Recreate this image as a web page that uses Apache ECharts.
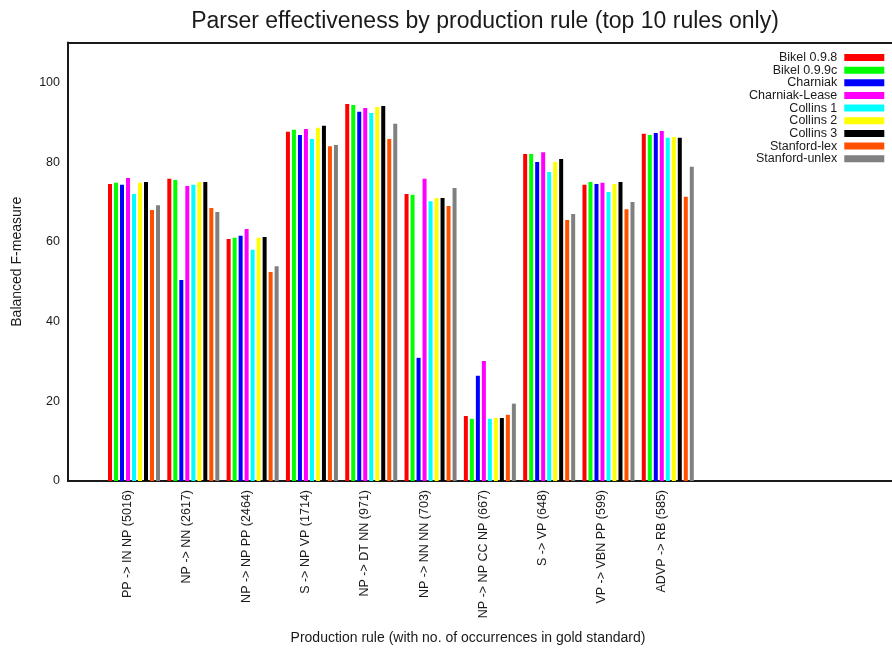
<!DOCTYPE html>
<html>
<head>
<meta charset="utf-8">
<script src="https://cdn.jsdelivr.net/npm/echarts@6/dist/echarts.min.js"></script>
<style>
  html, body { margin: 0; padding: 0; background: #fff; }
  #chart { width: 892px; height: 648px; }
</style>
</head>
<body>
<div id="chart"></div>
<script>
// Production rules (with occurrence counts in the gold standard)
const rules = [
  'PP -> IN NP (5016)', 'NP -> NN (2617)', 'NP -> NP PP (2464)', 'S -> NP VP (1714)',
  'NP -> DT NN (971)', 'NP -> NN NN (703)', 'NP -> NP CC NP (667)', 'S -> VP (648)',
  'VP -> VBN PP (599)', 'ADVP -> RB (585)'
];

const parsers = ['Bikel 0.9.8', 'Bikel 0.9.9c', 'Charniak', 'Charniak-Lease', 'Collins 1',
                 'Collins 2', 'Collins 3', 'Stanford-lex', 'Stanford-unlex'];

// Balanced F-measure per rule, one array per parser
const bikel098      = [74.5, 75.8, 60.7, 87.6, 94.6, 72.0, 16.3, 82.0, 74.3, 87.1];
const bikel099c     = [74.8, 75.5, 61.0, 88.1, 94.3, 71.8, 15.6, 82.0, 75.0, 86.8];
const charniak      = [74.3, 50.4, 61.5, 86.8, 92.6, 30.9, 26.4, 80.0, 74.5, 87.3];
const charniakLease = [76.0, 74.0, 63.2, 88.3, 93.6, 75.8, 30.1, 82.5, 74.8, 87.8];
const collins1      = [72.0, 74.3, 58.0, 85.8, 92.3, 70.2, 15.6, 77.5, 72.5, 86.1];
const collins2      = [74.8, 75.0, 61.0, 88.6, 93.8, 71.0, 15.8, 80.0, 74.5, 86.3];
const collins3      = [75.0, 75.0, 61.2, 89.1, 94.1, 71.0, 15.8, 80.8, 75.0, 86.1];
const stanfordLex   = [68.0, 68.5, 52.4, 84.0, 85.8, 69.0, 16.6, 65.5, 68.2, 71.3];
const stanfordUnlex = [69.2, 67.5, 53.9, 84.3, 89.6, 73.5, 19.4, 67.0, 70.0, 78.8];

const seriesValues = [bikel098, bikel099c, charniak, charniakLease, collins1,
                      collins2, collins3, stanfordLex, stanfordUnlex];

const colors = ['#ff0000', '#00ff00', '#0000ff', '#ff00ff', '#00ffff',
                '#ffff00', '#000000', '#ff5000', '#808080'];

const yTicks = { min: 0, max: 110, interval: 20 };

const FONT = '"Liberation Sans", Arial, sans-serif';
const TEXT = '#1a1a1a';
const AXIS_LINE = { show: true, lineStyle: { color: '#1a1a1a', width: 2 } };

const chart = echarts.init(document.getElementById('chart'), null, { renderer: 'canvas' });

chart.setOption({
  animation: false,
  backgroundColor: '#fff',
  textStyle: { fontFamily: FONT },
  color: colors,
  graphic: [
    {
      type: 'text', x: 485, y: 22,
      style: {
        text: 'Parser effectiveness by production rule (top 10 rules only)',
        fontFamily: FONT, fontSize: 23, fill: TEXT, align: 'center', verticalAlign: 'middle'
      }
    },
    {
      type: 'text', x: 468, y: 638,
      style: {
        text: 'Production rule (with no. of occurrences in gold standard)',
        fontFamily: FONT, fontSize: 14, fill: TEXT, align: 'center', verticalAlign: 'middle'
      }
    }
  ],
  legend: {
    orient: 'vertical',
    right: 7.7,
    top: 51,
    padding: 0,
    align: 'right',
    itemWidth: 40,
    itemHeight: 7,
    itemGap: -0.35,
    icon: 'rect',
    selectedMode: false,
    textStyle: { fontFamily: FONT, fontSize: 12.5, color: TEXT, lineHeight: 11, padding: [0, 2, 0, 0] },
    data: parsers
  },
  grid: [
    // frame: left axis, bottom and top lines
    { left: 68, right: 0, top: 42.5, bottom: 167 },
    // bar area
    { left: 104.35, width: 593.1, top: 42.5, bottom: 167 }
  ],
  xAxis: [
    {
      gridIndex: 0, type: 'value', min: 0, max: 1, position: 'bottom',
      axisLine: AXIS_LINE, axisTick: { show: false }, axisLabel: { show: false },
      splitLine: { show: false }
    },
    {
      gridIndex: 0, type: 'value', min: 0, max: 1, position: 'top',
      axisLine: AXIS_LINE, axisTick: { show: false }, axisLabel: { show: false },
      splitLine: { show: false }
    },
    {
      gridIndex: 1, type: 'category', data: rules, position: 'bottom',
      axisLine: { show: false }, axisTick: { show: false }, splitLine: { show: false },
      axisLabel: {
        rotate: 90, margin: 9, interval: 0, verticalAlign: 'bottom',
        fontFamily: FONT, fontSize: 12.5, color: TEXT
      }
    }
  ],
  yAxis: [
    {
      gridIndex: 0, type: 'value', min: yTicks.min, max: yTicks.max, interval: yTicks.interval,
      axisLine: AXIS_LINE, axisTick: { show: false }, splitLine: { show: false },
      axisLabel: { showMaxLabel: false, margin: 8, fontFamily: FONT, fontSize: 12.5, color: TEXT },
      name: 'Balanced F-measure', nameLocation: 'middle', nameGap: 44,
      nameTextStyle: { fontFamily: FONT, fontSize: 14, color: TEXT }
    },
    {
      gridIndex: 1, type: 'value', min: yTicks.min, max: yTicks.max, show: false,
      splitLine: { show: false }
    }
  ],
  series: parsers.map((name, i) => ({
    name: name,
    type: 'bar',
    xAxisIndex: 2,
    yAxisIndex: 1,
    barWidth: 4,
    barGap: '50%',
    itemStyle: { color: colors[i] },
    data: seriesValues[i]
  }))
});
</script>
</body>
</html>
